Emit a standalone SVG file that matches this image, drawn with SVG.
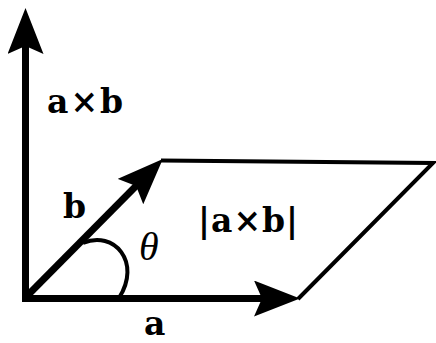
<svg xmlns="http://www.w3.org/2000/svg" width="436" height="343" viewBox="0 0 436 343">
<style>
.vec{stroke:#000;stroke-width:7;fill:none;marker-end:url(#ah)}
.thin{stroke:#000;stroke-width:4;fill:none;stroke-linejoin:miter}
.lbl{font-family:"DejaVu Serif","Liberation Serif",serif;font-weight:bold;font-size:33px;fill:#000}
.theta{font-family:"Liberation Serif",serif;font-style:italic;font-size:40px;fill:#000}
</style>
<defs>
<marker id="ah" viewBox="-46 -18 46 36" refX="-36" refY="0" markerWidth="46" markerHeight="36" markerUnits="userSpaceOnUse" orient="auto">
<path d="M0,0 L-46,-18 L-38,0 L-46,18 Z" fill="#000"/>
</marker>
</defs>
<rect width="436" height="343" fill="#fff"/>
<g id="connectors">
<line id="vec-axb" class="vec" x1="25.5" y1="302" x2="25.5" y2="44"/>
<line id="vec-a" class="vec" x1="22" y1="298.5" x2="264" y2="298.5"/>
<line id="vec-b" class="vec" x1="25" y1="298" x2="137.5" y2="184.5"/>
<polyline id="parallelogram" class="thin" points="161,160.5 433,163 298,299"/>
<path id="angle-arc" class="thin" d="M83,243 C114,230 142,262 119,298"/>
</g>
<g id="label-axb"><text class="lbl" x="47" y="113" letter-spacing="2">a×b</text></g>
<g id="label-b"><text class="lbl" x="63" y="218" font-size="35">b</text></g>
<g id="label-theta"><text class="theta" x="139" y="260">θ</text></g>
<g id="label-area"><text class="lbl" x="198" y="232" letter-spacing="1">|a×b|</text></g>
<g id="label-a"><text class="lbl" x="144" y="335" font-size="33">a</text></g>
</svg>
